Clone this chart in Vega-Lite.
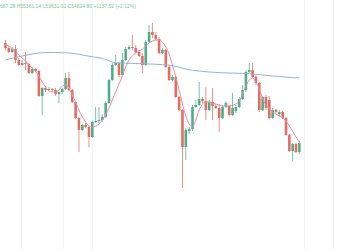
{
  "$schema": "https://vega.github.io/schema/vega-lite/v6.json",
  "width": 350,
  "height": 250,
  "padding": 0,
  "autosize": {"type": "none"},
  "background": "white",
  "config": {"view": {"stroke": null}},
  "title": {"text": "687.28 H55361.14 L53631.02 C54824.80 +1137.52 (+2.12%)", "anchor": "start", "fontSize": 5, "fontWeight": "normal", "color": "#7cc5a5", "font": "Liberation Sans", "offset": 0, "dy": 9},
  "datasets": {
    "candles": [
      {"i":0,"o":43,"h":40,"l":50,"c":48,"m":44,"s":60},
      {"i":1,"o":48,"h":46,"l":53,"c":52,"m":46,"s":59},
      {"i":2,"o":52,"h":47,"l":53,"c":49,"m":49,"s":58.3},
      {"i":3,"o":49,"h":45,"l":63,"c":60,"m":52,"s":57.5},
      {"i":4,"o":60,"h":58,"l":66,"c":65,"m":55,"s":56.7},
      {"i":5,"o":65,"h":60,"l":66,"c":63,"m":58,"s":56},
      {"i":6,"o":63,"h":52,"l":70,"c":64,"m":61,"s":55.3},
      {"i":7,"o":64,"h":63,"l":74,"c":73,"m":65,"s":54.7},
      {"i":8,"o":73,"h":67,"l":74,"c":69,"m":68,"s":54},
      {"i":9,"o":69,"h":68,"l":72,"c":71,"m":71,"s":53.5},
      {"i":10,"o":71,"h":70,"l":97,"c":96,"m":76,"s":53},
      {"i":11,"o":96,"h":87,"l":115,"c":88,"m":82,"s":52.8},
      {"i":12,"o":88,"h":86,"l":92,"c":90,"m":87,"s":52.6},
      {"i":13,"o":90,"h":87,"l":91,"c":89,"m":91,"s":52.5},
      {"i":14,"o":89,"h":88,"l":92,"c":90,"m":92,"s":52.5},
      {"i":15,"o":90,"h":88,"l":96,"c":94,"m":92,"s":52.5},
      {"i":16,"o":94,"h":90,"l":103,"c":92,"m":90,"s":52.6},
      {"i":17,"o":92,"h":88,"l":94,"c":89,"m":86,"s":52.7},
      {"i":18,"o":89,"h":73,"l":90,"c":78,"m":85,"s":52.8},
      {"i":19,"o":78,"h":72,"l":91,"c":90,"m":88,"s":53},
      {"i":20,"o":90,"h":89,"l":103,"c":102,"m":95,"s":53.3},
      {"i":21,"o":102,"h":101,"l":119,"c":118,"m":102,"s":53.8},
      {"i":22,"o":118,"h":117,"l":152,"c":130,"m":110,"s":54.3},
      {"i":23,"o":130,"h":124,"l":131,"c":125,"m":117,"s":55},
      {"i":24,"o":125,"h":123,"l":128,"c":127,"m":122,"s":55.6},
      {"i":25,"o":127,"h":126,"l":147,"c":137,"m":126,"s":56.2},
      {"i":26,"o":137,"h":121,"l":138,"c":122,"m":127,"s":56.8},
      {"i":27,"o":122,"h":107,"l":123,"c":121,"m":126,"s":57.3},
      {"i":28,"o":121,"h":107,"l":123,"c":120,"m":124,"s":57.8},
      {"i":29,"o":120,"h":114,"l":122,"c":117,"m":120,"s":58.4},
      {"i":30,"o":117,"h":101,"l":118,"c":103,"m":115,"s":59.5},
      {"i":31,"o":103,"h":79,"l":104,"c":80,"m":108,"s":60.8},
      {"i":32,"o":80,"h":63,"l":81,"c":65,"m":100,"s":62},
      {"i":33,"o":65,"h":55,"l":66,"c":63,"m":92,"s":62.7},
      {"i":34,"o":63,"h":62,"l":77,"c":75,"m":84,"s":63},
      {"i":35,"o":75,"h":53,"l":76,"c":60,"m":76,"s":63.1},
      {"i":36,"o":60,"h":47,"l":61,"c":49,"m":67,"s":63.2},
      {"i":37,"o":49,"h":45,"l":50,"c":47,"m":60,"s":63.3},
      {"i":38,"o":47,"h":35,"l":50,"c":48,"m":56,"s":63.4},
      {"i":39,"o":48,"h":45,"l":53,"c":52,"m":53,"s":63.5},
      {"i":40,"o":52,"h":50,"l":57,"c":56,"m":51,"s":63.6},
      {"i":41,"o":56,"h":53,"l":73,"c":65,"m":49,"s":63.7},
      {"i":42,"o":65,"h":40,"l":66,"c":42,"m":46,"s":63.8},
      {"i":43,"o":42,"h":25,"l":43,"c":32,"m":43,"s":64},
      {"i":44,"o":32,"h":23,"l":38,"c":35,"m":41,"s":64.1},
      {"i":45,"o":35,"h":32,"l":40,"c":39,"m":40,"s":64.3},
      {"i":46,"o":39,"h":37,"l":54,"c":53,"m":40,"s":64.5},
      {"i":47,"o":53,"h":48,"l":54,"c":50,"m":42,"s":64.7},
      {"i":48,"o":50,"h":49,"l":68,"c":67,"m":47,"s":64.9},
      {"i":49,"o":67,"h":65,"l":81,"c":80,"m":54,"s":65.2},
      {"i":50,"o":80,"h":75,"l":81,"c":77,"m":65,"s":65.8},
      {"i":51,"o":77,"h":76,"l":98,"c":97,"m":77,"s":66.5},
      {"i":52,"o":97,"h":96,"l":111,"c":110,"m":90,"s":67.3},
      {"i":53,"o":110,"h":109,"l":188,"c":147,"m":104,"s":68.2},
      {"i":54,"o":147,"h":128,"l":160,"c":130,"m":116,"s":69},
      {"i":55,"o":131,"h":127,"l":134,"c":129,"m":124,"s":69.8},
      {"i":56,"o":129,"h":105,"l":131,"c":107,"m":127,"s":70.3},
      {"i":57,"o":107,"h":100,"l":108,"c":105,"m":120,"s":70.7},
      {"i":58,"o":105,"h":82,"l":106,"c":99,"m":110,"s":71},
      {"i":59,"o":99,"h":97,"l":103,"c":101,"m":104,"s":71.4},
      {"i":60,"o":101,"h":87,"l":120,"c":110,"m":102,"s":71.7},
      {"i":61,"o":110,"h":100,"l":111,"c":102,"m":102,"s":72},
      {"i":62,"o":102,"h":88,"l":120,"c":106,"m":103,"s":72.2},
      {"i":63,"o":106,"h":104,"l":109,"c":108,"m":104,"s":72.4},
      {"i":64,"o":108,"h":104,"l":132,"c":118,"m":105,"s":72.6},
      {"i":65,"o":118,"h":105,"l":119,"c":107,"m":106,"s":72.8},
      {"i":66,"o":107,"h":101,"l":108,"c":103,"m":106,"s":72.9},
      {"i":67,"o":106,"h":105,"l":116,"c":115,"m":106,"s":73},
      {"i":68,"o":115,"h":93,"l":116,"c":108,"m":105,"s":73.1},
      {"i":69,"o":111,"h":105,"l":113,"c":107,"m":104,"s":73.2},
      {"i":70,"o":107,"h":97,"l":108,"c":99,"m":101,"s":73.3},
      {"i":71,"o":99,"h":85,"l":100,"c":90,"m":94,"s":73.4},
      {"i":72,"o":90,"h":70,"l":92,"c":72,"m":86,"s":73.5},
      {"i":73,"o":72,"h":63,"l":73,"c":70,"m":80,"s":73.6},
      {"i":74,"o":70,"h":63,"l":78,"c":77,"m":78,"s":74},
      {"i":75,"o":77,"h":75,"l":85,"c":83,"m":82,"s":74.3},
      {"i":76,"o":83,"h":82,"l":112,"c":110,"m":89,"s":74.6},
      {"i":77,"o":110,"h":96,"l":111,"c":97,"m":98,"s":75},
      {"i":78,"o":97,"h":95,"l":110,"c":108,"m":105,"s":75.3},
      {"i":79,"o":100,"h":96,"l":119,"c":118,"m":109,"s":75.6},
      {"i":80,"o":118,"h":108,"l":119,"c":110,"m":112,"s":75.9},
      {"i":81,"o":110,"h":109,"l":114,"c":112,"m":114,"s":76.2},
      {"i":82,"o":114,"h":110,"l":116,"c":112,"m":116,"s":76.5},
      {"i":83,"o":112,"h":111,"l":119,"c":118,"m":118,"s":76.8},
      {"i":84,"o":118,"h":117,"l":136,"c":135,"m":121,"s":77.1},
      {"i":85,"o":135,"h":134,"l":152,"c":151,"m":126,"s":77.4},
      {"i":86,"o":151,"h":143,"l":161,"c":144,"m":131,"s":77.6},
      {"i":87,"o":144,"h":143,"l":153,"c":152,"m":137,"s":77.8},
      {"i":88,"o":152,"h":141,"l":154,"c":143,"m":142,"s":78}
    ],
    "grid": [{"g":4.8},{"g":17.3},{"g":26},{"g":89.5},{"g":98.2}]
  },
  "layer": [
    {
      "data": {"name": "grid"},
      "mark": {"type": "rule", "color": "#f2f2f2", "strokeWidth": 1},
      "encoding": {
        "x": {"field": "g", "type": "quantitative", "scale": {"domain": [-0.145, 101.67], "nice": false, "zero": false}, "axis": null}
      }
    },
    {
      "data": {"name": "candles"},
      "layer": [
        {
          "mark": {"type": "rule", "strokeWidth": 1, "opacity": 0.75},
          "encoding": {
            "x": {"field": "i", "type": "quantitative", "scale": {"domain": [-0.145, 101.67], "nice": false, "zero": false}, "axis": null},
            "y": {"field": "h", "type": "quantitative", "scale": {"domain": [0, 250], "reverse": true, "nice": false, "zero": false}, "axis": null},
            "y2": {"field": "l"},
            "color": {"condition": {"test": "datum.c < datum.o", "value": "#4fae8a"}, "value": "#ea6a5f"}
          }
        },
        {
          "mark": {"type": "bar", "size": 2.6},
          "encoding": {
            "x": {"field": "i", "type": "quantitative"},
            "y": {"field": "o", "type": "quantitative"},
            "y2": {"field": "c"},
            "color": {"condition": {"test": "datum.c < datum.o", "value": "#4fae8a"}, "value": "#ea6a5f"}
          }
        },
        {
          "mark": {"type": "line", "color": "#8fb4d9", "strokeWidth": 1},
          "encoding": {
            "x": {"field": "i", "type": "quantitative"},
            "y": {"field": "s", "type": "quantitative"}
          }
        },
        {
          "mark": {"type": "line", "color": "#e38fae", "strokeWidth": 1, "interpolate": "monotone"},
          "encoding": {
            "x": {"field": "i", "type": "quantitative"},
            "y": {"field": "m", "type": "quantitative"}
          }
        }
      ]
    },
    {
      "mark": {"type": "rule", "color": "#e8cccc", "strokeWidth": 1, "strokeDash": [1, 1]},
      "encoding": {"y": {"datum": 143, "type": "quantitative"}}
    }
  ]
}
